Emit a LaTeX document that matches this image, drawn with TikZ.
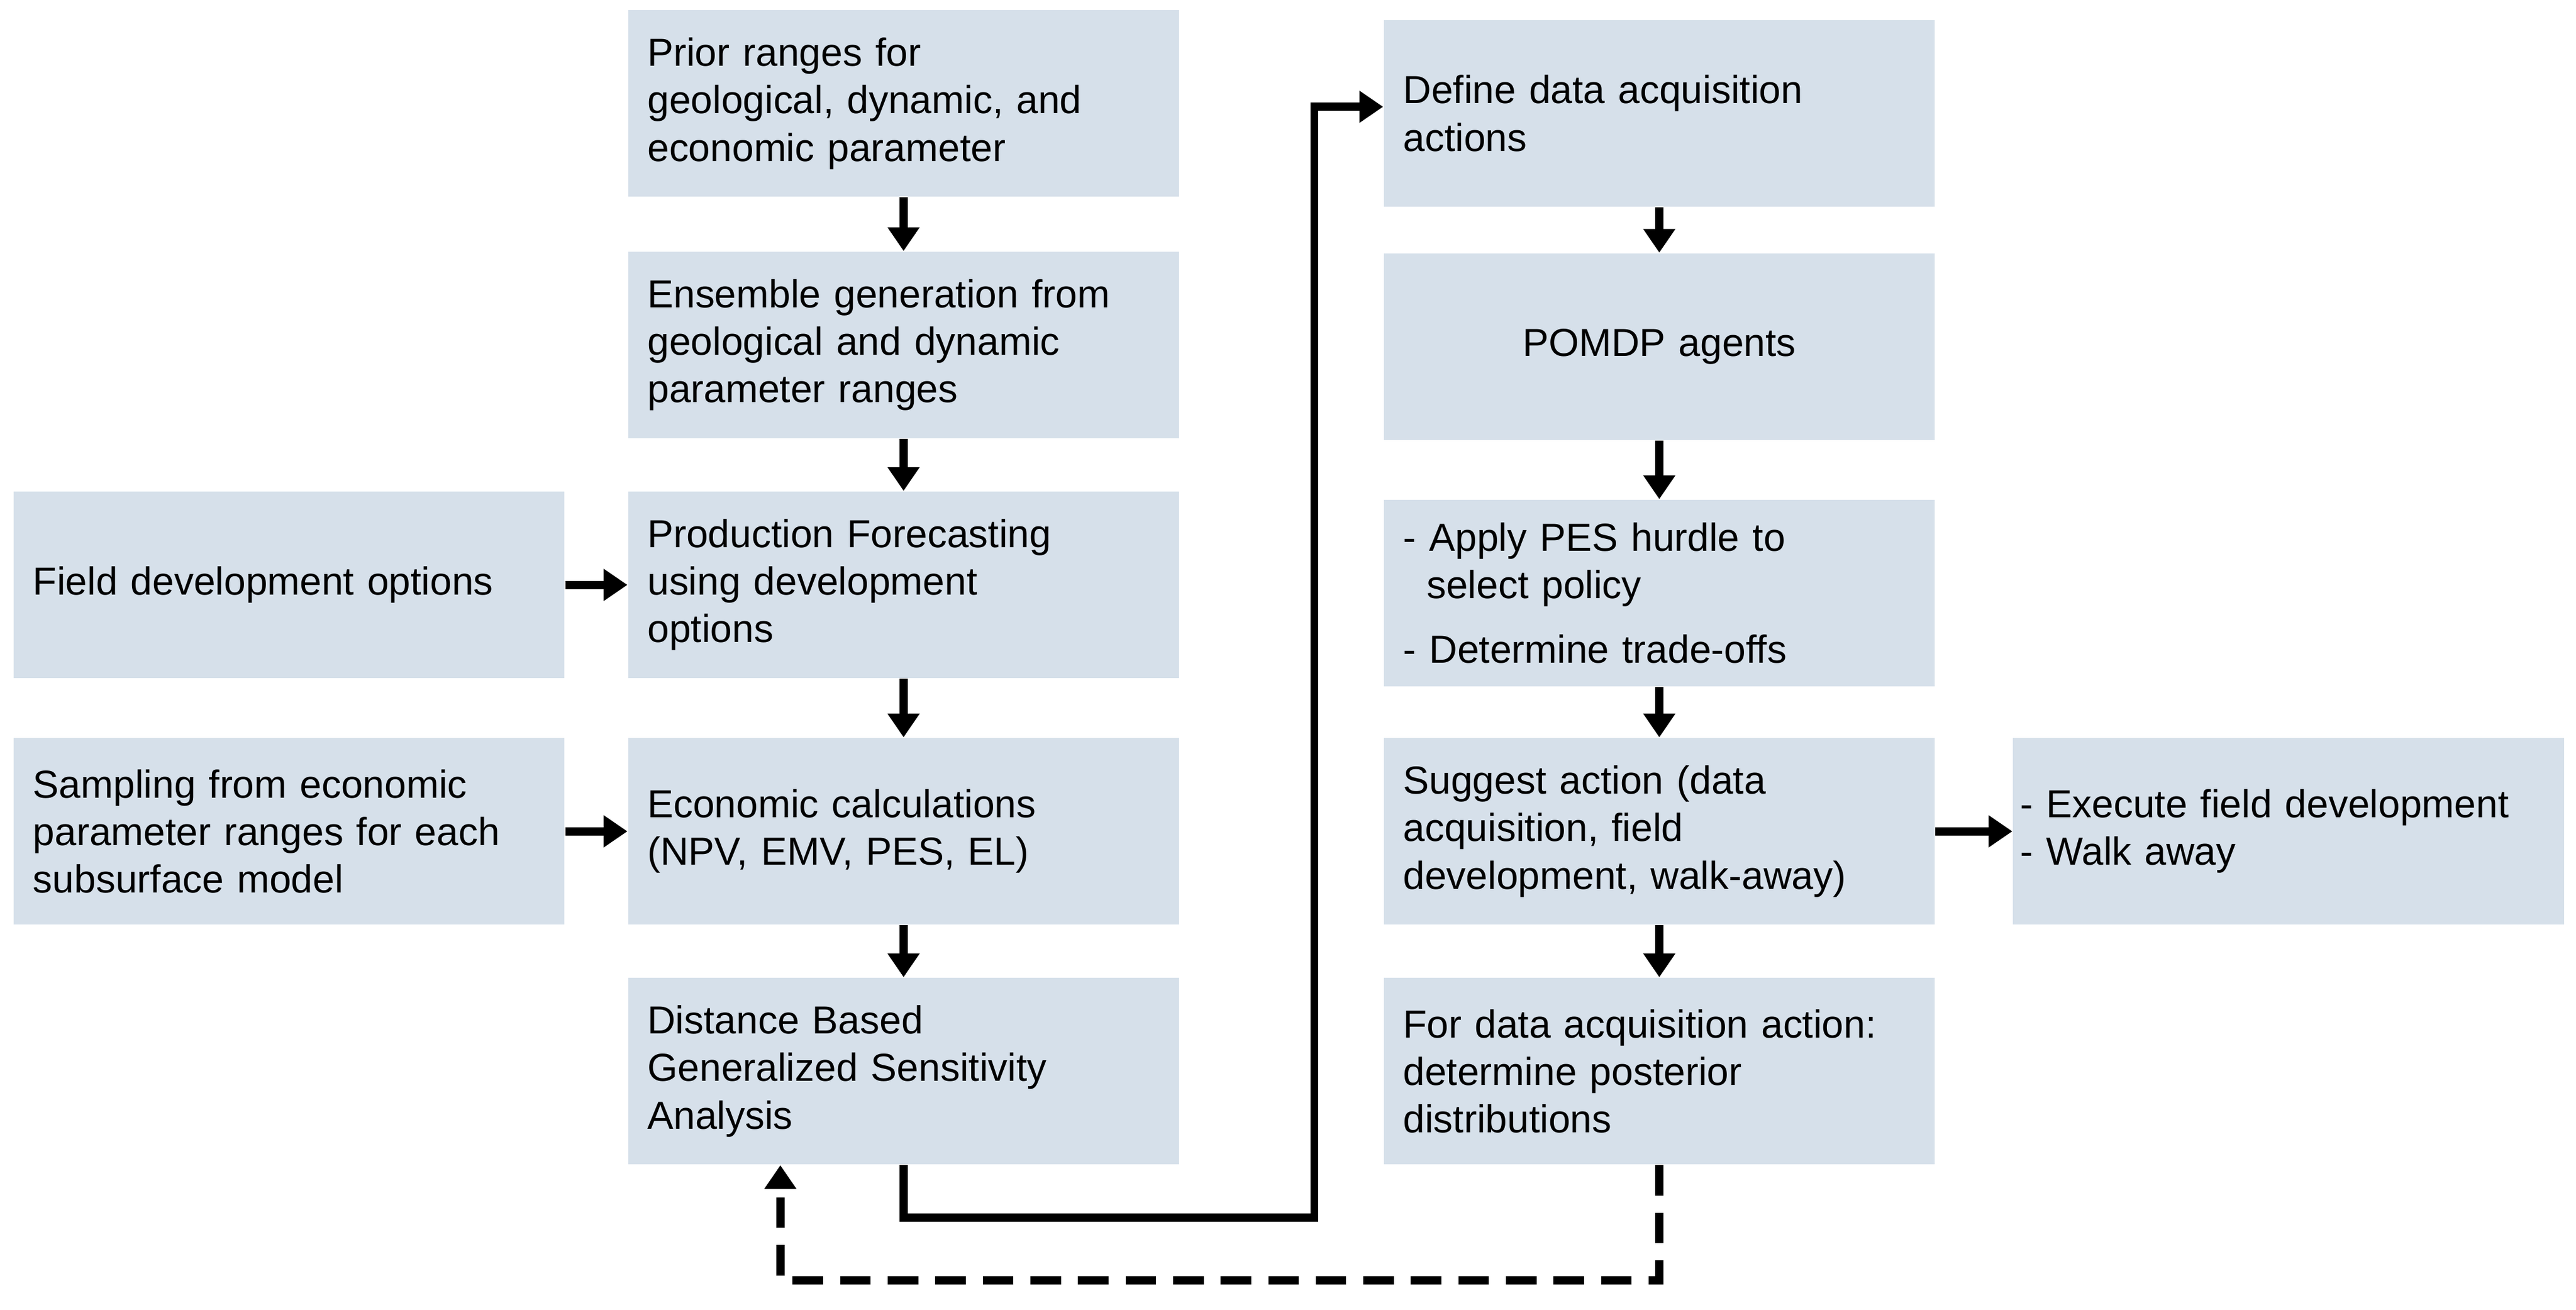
\documentclass[tikz,border=0pt]{standalone}
\usepackage{fontspec}
\setmainfont{Liberation Sans}
\usetikzlibrary{arrows.meta}
\begin{document}
\begin{tikzpicture}[x=0.017cm,y=-0.017cm,
  box/.style={fill=boxfill, minimum width=5.7cm, minimum height=1.93cm,
    text width=5.3cm, align=left, inner sep=0pt, font=\fontsize{11.5}{14}\selectfont},
  flow/.style={line width=2.4pt, -{Triangle[length=7pt,width=9pt]}},
  back/.style={flow, dashed, dash pattern=on 9pt off 5pt}]
\definecolor{boxfill}{HTML}{D6E0EA}
\useasboundingbox (0,0) rectangle (1568,797);

% middle column
\node[box] (prior) at (550,63) {Prior ranges for\\geological, dynamic, and\\economic parameter};
\node[box] (ens) at (550,210) {Ensemble generation from\\geological and dynamic\\parameter ranges};
\node[box] (prod) at (550,356) {Production Forecasting\\using development\\options};
\node[box] (econ) at (550,506) {Economic calculations\\(NPV, EMV, PES, EL)};
\node[box] (dgsa) at (550,652) {Distance Based\\Generalized Sensitivity\\Analysis};

% left column
\node[box] (field) at (176,356) {Field development options};
\node[box] (samp) at (176,506) {Sampling from economic\\parameter ranges for each\\subsurface model};

% right column
\node[box] (define) at (1010,69) {Define data acquisition\\actions};
\node[box, align=center] (pomdp) at (1010,211) {POMDP agents};
\node[box] (pes) at (1010,361) {- Apply PES hurdle to\\\hspace*{0.6em}select policy\\[5pt]- Determine trade-offs};
\node[box] (suggest) at (1010,506) {Suggest action (data\\acquisition, field\\development, walk-away)};
\node[box] (post) at (1010,652) {For data acquisition action:\\determine posterior\\distributions};
\node[box, text width=5.55cm] (exec) at (1393,506) {- Execute field development\\- Walk away};

% arrows
\draw[flow] (prior) -- (ens);
\draw[flow] (ens) -- (prod);
\draw[flow] (prod) -- (econ);
\draw[flow] (econ) -- (dgsa);
\draw[flow] (field) -- (prod);
\draw[flow] (samp) -- (econ);
\draw[flow] (define) -- (pomdp);
\draw[flow] (pomdp) -- (pes);
\draw[flow] (pes) -- (suggest);
\draw[flow] (suggest) -- (post);
\draw[flow] (suggest) -- (exec);
\draw[flow] (dgsa.south) -- ++(0,32) -| (800,65) -- (define.west |- 0,65);
\draw[back] (post.south) -- ++(0,70) -| (dgsa.south -| 475,0);
\end{tikzpicture}
\end{document}
